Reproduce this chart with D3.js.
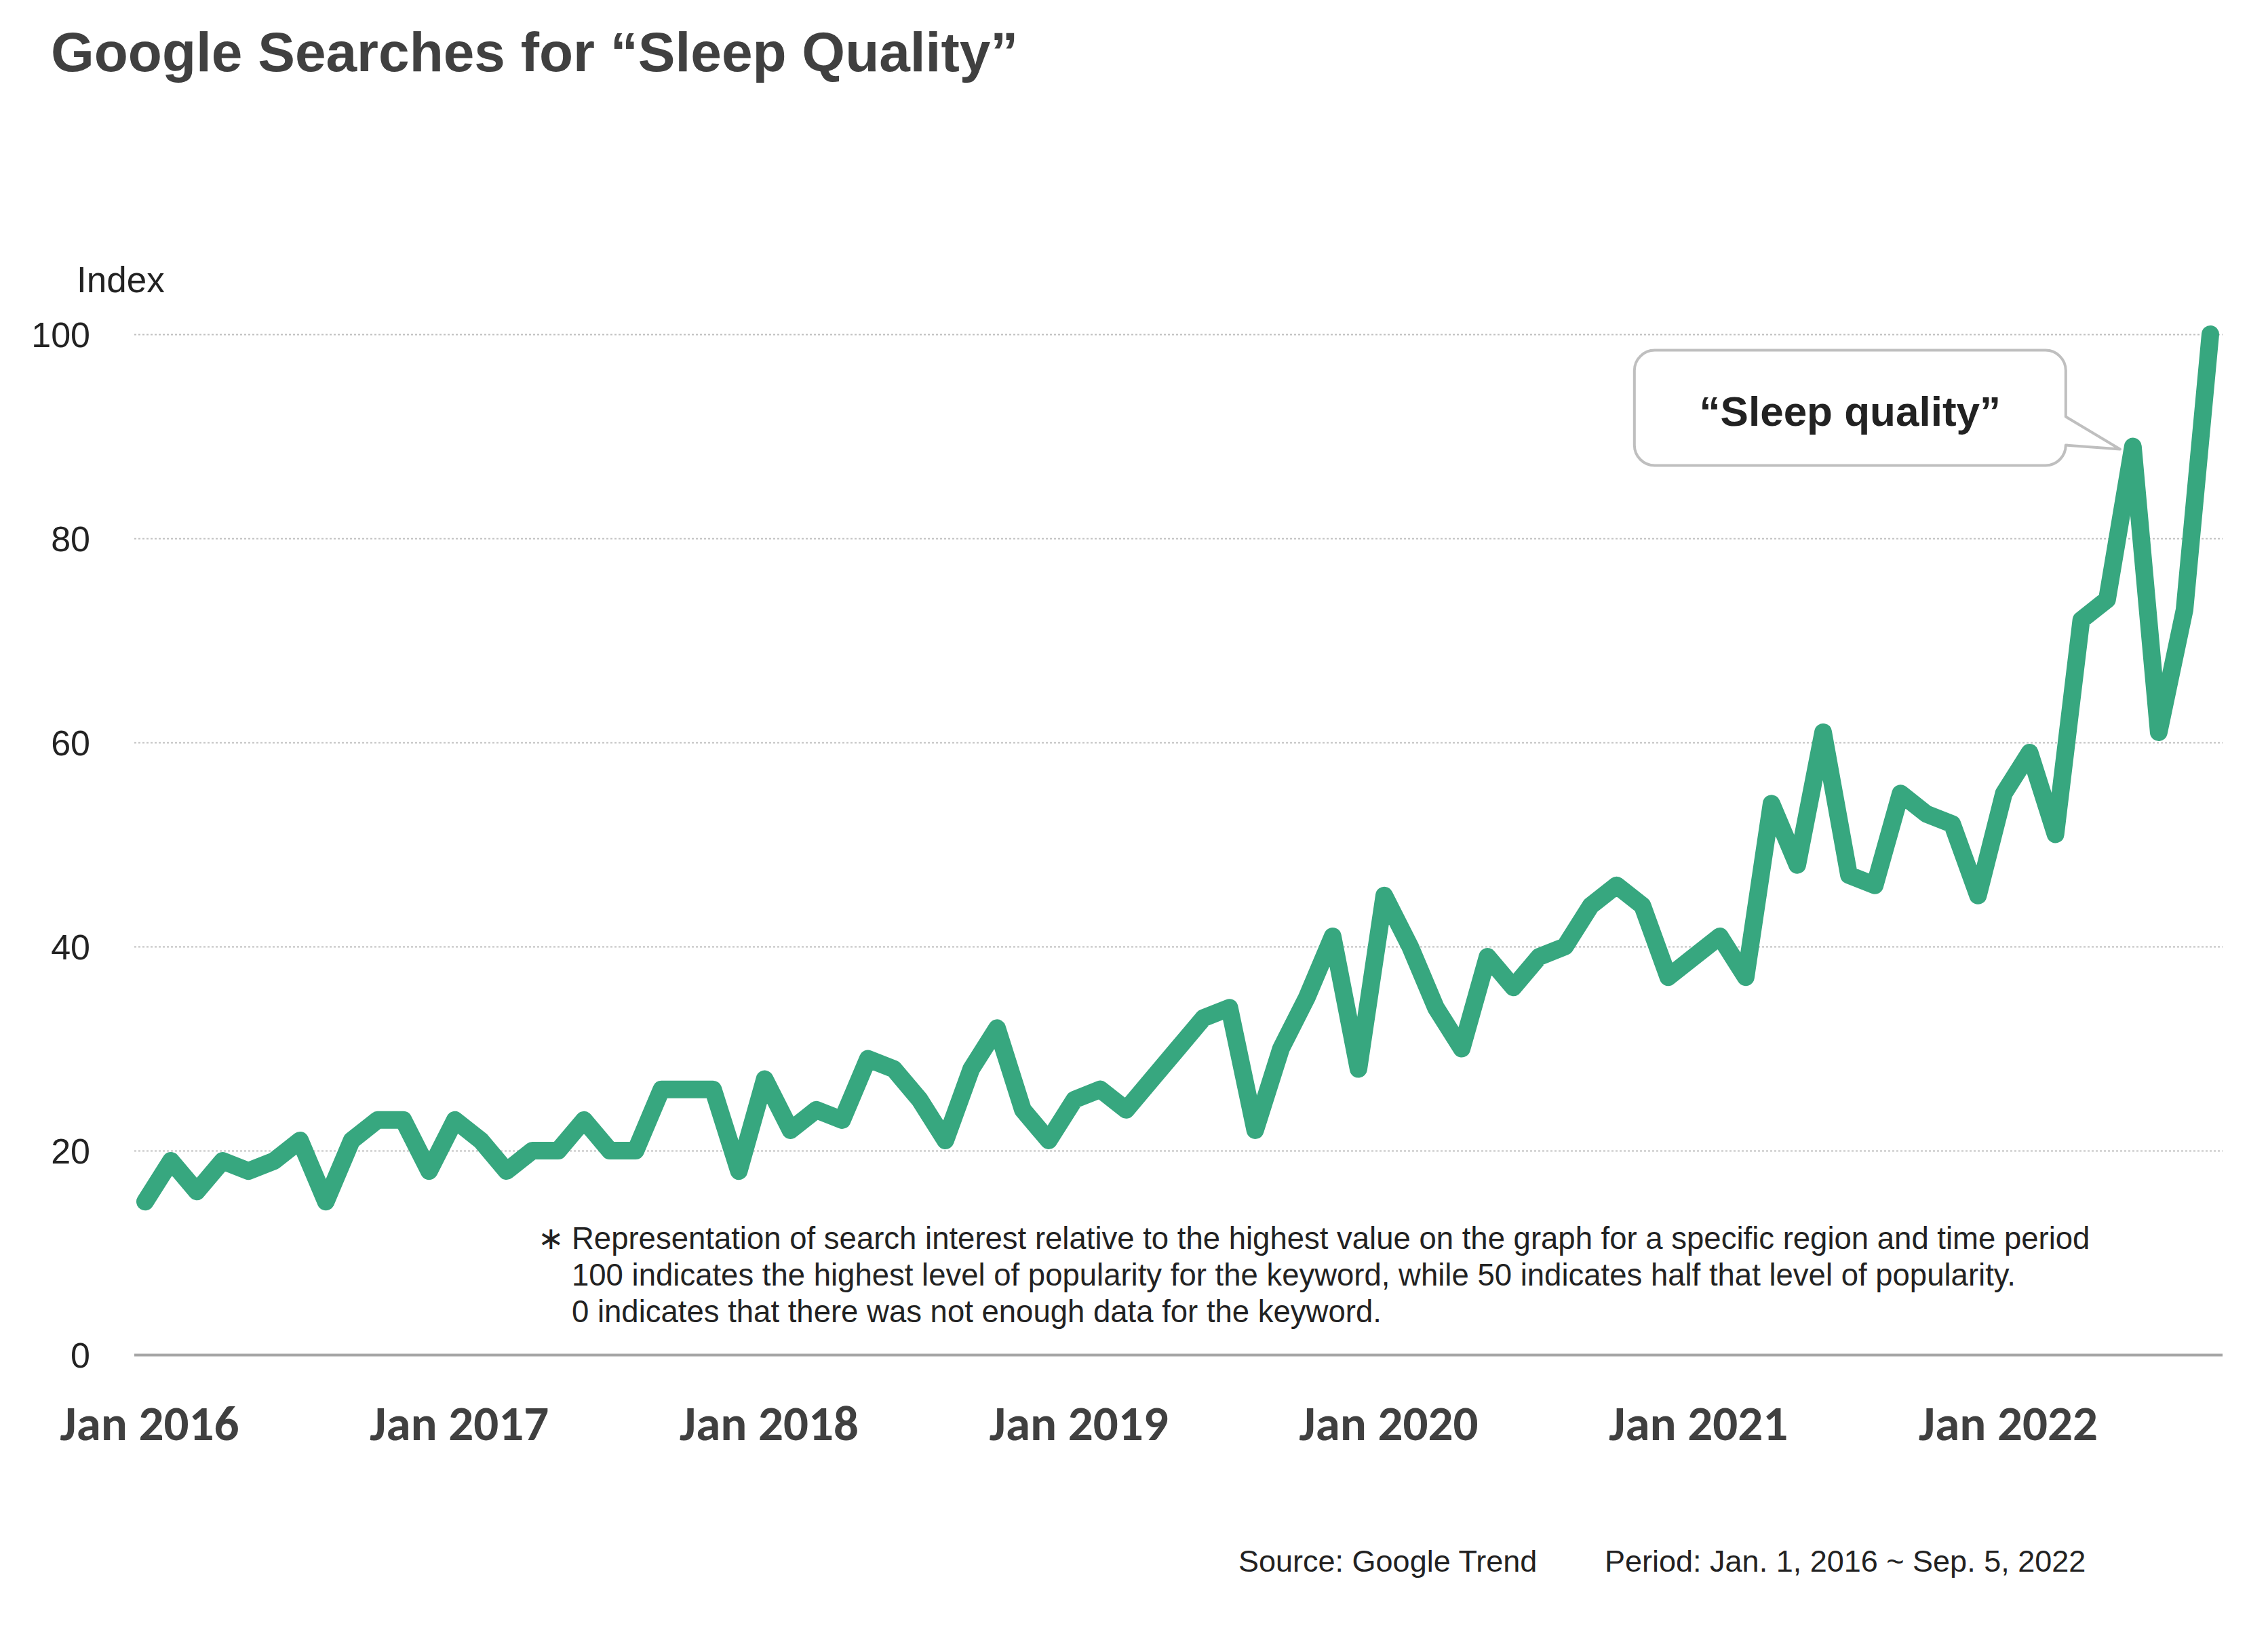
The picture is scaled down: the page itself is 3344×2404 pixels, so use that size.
<!DOCTYPE html>
<html>
<head>
<meta charset="utf-8">
<script src="https://cdn.jsdelivr.net/npm/d3@7"></script>
<style>
  body { margin: 0; background: #ffffff; }
  svg { display: block; }
</style>
</head>
<body>
<div id="chart"></div>
<script>
// Monthly Google Trends index, Jan 2016 .. Sep 2022.
var searchIndex = [
  15, 19, 16, 19, 18, 19, 21, 15, 21, 23, 23, 18,
  23, 21, 18, 20, 20, 23, 20, 20, 26, 26, 26, 18,
  27, 22, 24, 23, 29, 28, 25, 21, 28, 32, 24, 21,
  25, 26, 24, 27, 30, 33, 34, 22, 30, 35, 41, 28,
  45, 40, 34, 30, 39, 36, 39, 40, 44, 46, 44, 37,
  39, 41, 37, 54, 48, 61, 47, 46, 55, 53, 52, 45,
  55, 59, 51, 72, 74, 89, 61, 73, 100
];
var yTicks = [0, 20, 40, 60, 80, 100];
var xTickMonths = [0, 12, 24, 36, 48, 60, 72];
var xTickLabels = ["Jan 2016", "Jan 2017", "Jan 2018", "Jan 2019", "Jan 2020", "Jan 2021", "Jan 2022"];
var calloutIndex = 77;
var calloutLabel = "\u201cSleep quality\u201d";
var title = "Google Searches for \u201cSleep Quality\u201d";
var yLabel = "Index";
var footnoteLines = [
  "Representation of search interest relative to the highest value on the graph for a specific region and time period",
  "100 indicates the highest level of popularity for the keyword, while 50 indicates half that level of popularity.",
  "0 indicates that there was not enough data for the keyword."
];
var sourceText = "Source: Google Trend";
var periodText = "Period: Jan. 1, 2016 ~ Sep. 5, 2022";

// 0. Sizes and colours.
var width = 3344;
var height = 2404;
var lineColor = '#37a77f';
var gridColor = '#bfbfbf';
var axisColor = '#a6a6a6';
var textColor = '#222222';
var titleColor = '#404040';
var sans = '"Liberation Sans", Arial, sans-serif';

var gridLeft = 198, gridRight = 3277;

// 1. Scales.
var xScale = d3.scaleLinear()
  .domain([0, searchIndex.length - 1])
  .range([214, 3259]);
var yScale = d3.scaleLinear()
  .domain([0, 100])
  .range([1998, 493]);

var svg = d3.select("#chart").append("svg")
  .attr("width", width)
  .attr("height", height)
  .attr("viewBox", "0 0 " + width + " " + height);

svg.append("rect").attr("width", width).attr("height", height).attr("fill", "#ffffff");

// 2. Title.
svg.append("text")
  .attr("x", 75)
  .attr("y", 105)
  .attr("font-family", sans)
  .attr("font-weight", "bold")
  .attr("font-size", 82)
  .attr("fill", titleColor)
  .text(title);

// 3. Y axis with dotted gridlines; the zero line is the solid base line.
var yAxis = d3.axisLeft(yScale)
  .tickValues(yTicks)
  .tickSize(-(gridRight - gridLeft))
  .tickPadding(65);
var yG = svg.append("g")
  .attr("transform", "translate(" + gridLeft + ",0)")
  .call(yAxis);
yG.select(".domain").remove();
yG.selectAll(".tick line")
  .attr("stroke", function (d) { return d === 0 ? axisColor : gridColor; })
  .attr("stroke-width", function (d) { return d === 0 ? 4 : 2; })
  .attr("stroke-dasharray", function (d) { return d === 0 ? null : "3,3"; });
yG.selectAll(".tick text")
  .attr("font-family", sans)
  .attr("font-size", 52)
  .attr("fill", textColor)
  .attr("dy", "0.36em");

svg.append("text")
  .attr("x", 113)
  .attr("y", 431)
  .attr("font-family", sans)
  .attr("font-size", 53)
  .attr("fill", textColor)
  .text(yLabel);

// 4. X axis labels.
var xAxis = d3.axisBottom(xScale)
  .tickValues(xTickMonths)
  .tickFormat(function (d, i) { return xTickLabels[i]; })
  .tickSize(0);
var xG = svg.append("g")
  .attr("transform", "translate(0," + yScale(0) + ")")
  .call(xAxis);
xG.select(".domain").remove();
xG.selectAll(".tick text")
  .attr("y", 126)
  .attr("dy", 0)
  .attr("dx", 6)
  .attr("font-family", 'Carlito, Calibri, Lato, sans-serif')
  .attr("font-weight", "bold")
  .attr("font-size", 73)
  .attr("fill", titleColor);

// 5. Footnote inside the plot.
var note = svg.append("g")
  .attr("font-family", sans)
  .attr("font-size", 45.5)
  .attr("fill", textColor);
note.append("text")
  .attr("x", 793)
  .attr("y", 1842)
  .text("\u2217");
note.selectAll("text.line").data(footnoteLines)
  .enter().append("text")
  .attr("class", "line")
  .attr("x", 843)
  .attr("y", function (d, i) { return 1842 + i * 54; })
  .text(function (d) { return d; });

// 6. The search index line.
var line = d3.line()
  .x(function (d, i) { return xScale(i); })
  .y(function (d) { return yScale(d); });
svg.append("path")
  .datum(searchIndex)
  .attr("d", line)
  .attr("fill", "none")
  .attr("stroke", lineColor)
  .attr("stroke-width", 26)
  .attr("stroke-linejoin", "round")
  .attr("stroke-linecap", "round");

// 7. Callout box pointing at the second highest peak.
var tipX = xScale(calloutIndex) - 19;
var tipY = yScale(searchIndex[calloutIndex]) + 4;
var bR = tipX - 80, bL = bR - 636, bT = tipY - 146, bB = tipY + 24, r = 30;
var callout = d3.path();
callout.moveTo(bL + r, bT);
callout.lineTo(bR - r, bT);
callout.arcTo(bR, bT, bR, bT + r, r);
callout.lineTo(bR, tipY - 48);
callout.lineTo(tipX, tipY);
callout.lineTo(bR, tipY - 6);
callout.lineTo(bR, bB - r);
callout.arcTo(bR, bB, bR - r, bB, r);
callout.lineTo(bL + r, bB);
callout.arcTo(bL, bB, bL, bB - r, r);
callout.lineTo(bL, bT + r);
callout.arcTo(bL, bT, bL + r, bT, r);
callout.closePath();
svg.append("path")
  .attr("d", callout.toString())
  .attr("fill", "#ffffff")
  .attr("stroke", gridColor)
  .attr("stroke-width", 4)
  .attr("stroke-linejoin", "round");
svg.append("text")
  .attr("x", (bL + bR) / 2)
  .attr("y", bT + 111)
  .attr("text-anchor", "middle")
  .attr("font-family", sans)
  .attr("font-weight", "bold")
  .attr("font-size", 62)
  .attr("fill", textColor)
  .text(calloutLabel);

// 8. Source and period at the bottom.
var foot = svg.append("g")
  .attr("font-family", sans)
  .attr("font-size", 45)
  .attr("fill", textColor);
foot.append("text").attr("x", 1826).attr("y", 2318).text(sourceText);
foot.append("text").attr("x", 2366).attr("y", 2318).text(periodText);
</script>
</body>
</html>
